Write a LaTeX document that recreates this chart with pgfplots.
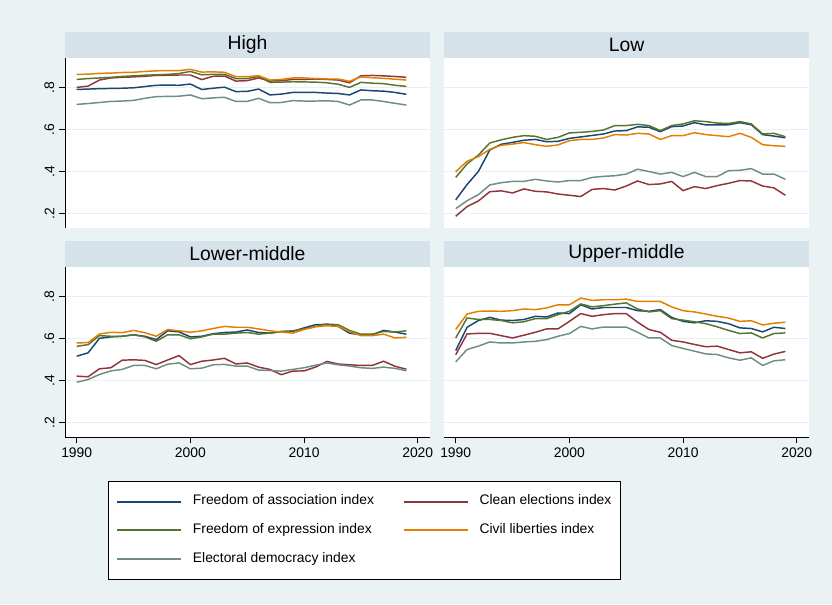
\documentclass[border=0pt]{standalone}
\usepackage{pgfplots}
\usepackage{pgfplotstable}
\pgfplotsset{compat=1.18}
\usepackage{fontspec}
\setmainfont{Liberation Sans}
\definecolor{bgc}{RGB}{234,242,243}
\definecolor{stripc}{RGB}{214,226,233}
\definecolor{gridc}{RGB}{232,240,242}
\definecolor{cnavy}{RGB}{26,71,111}
\definecolor{cmaroon}{RGB}{144,53,59}
\definecolor{cgreen}{RGB}{85,117,47}
\definecolor{corange}{RGB}{227,126,0}
\definecolor{cteal}{RGB}{110,142,132}

\pgfplotstableread{
year a c e l d
1990 0.790 0.800 0.838 0.862 0.719
1991 0.792 0.806 0.842 0.863 0.723
1992 0.794 0.835 0.845 0.867 0.728
1993 0.795 0.845 0.848 0.868 0.733
1994 0.796 0.848 0.852 0.871 0.735
1995 0.798 0.850 0.855 0.872 0.738
1996 0.804 0.853 0.858 0.876 0.748
1997 0.810 0.857 0.860 0.879 0.756
1998 0.811 0.858 0.862 0.880 0.757
1999 0.810 0.859 0.866 0.880 0.758
2000 0.816 0.859 0.876 0.886 0.764
2001 0.790 0.837 0.860 0.873 0.746
2002 0.796 0.853 0.862 0.874 0.750
2003 0.801 0.854 0.862 0.872 0.753
2004 0.780 0.830 0.842 0.851 0.733
2005 0.781 0.832 0.842 0.851 0.733
2006 0.792 0.845 0.852 0.856 0.748
2007 0.764 0.830 0.824 0.835 0.727
2008 0.768 0.832 0.825 0.838 0.728
2009 0.776 0.838 0.827 0.845 0.737
2010 0.776 0.838 0.826 0.845 0.735
2011 0.776 0.840 0.825 0.842 0.735
2012 0.773 0.838 0.822 0.840 0.736
2013 0.771 0.835 0.815 0.840 0.733
2014 0.764 0.822 0.800 0.829 0.716
2015 0.788 0.855 0.824 0.850 0.740
2016 0.784 0.857 0.820 0.846 0.740
2017 0.782 0.855 0.818 0.843 0.733
2018 0.776 0.852 0.810 0.839 0.724
2019 0.767 0.848 0.805 0.835 0.716
}\high

\pgfplotstableread{
year a c e l d
1990 0.264 0.186 0.371 0.398 0.222
1991 0.337 0.232 0.435 0.448 0.260
1992 0.400 0.259 0.478 0.470 0.289
1993 0.502 0.303 0.535 0.505 0.335
1994 0.529 0.307 0.550 0.524 0.346
1995 0.538 0.297 0.562 0.530 0.352
1996 0.548 0.316 0.570 0.537 0.352
1997 0.552 0.305 0.567 0.527 0.362
1998 0.541 0.302 0.552 0.519 0.354
1999 0.543 0.292 0.562 0.526 0.349
2000 0.557 0.286 0.583 0.546 0.356
2001 0.564 0.280 0.586 0.552 0.356
2002 0.571 0.314 0.590 0.552 0.371
2003 0.578 0.318 0.597 0.559 0.376
2004 0.592 0.311 0.618 0.575 0.379
2005 0.594 0.330 0.618 0.573 0.387
2006 0.612 0.354 0.624 0.581 0.410
2007 0.610 0.337 0.618 0.578 0.399
2008 0.589 0.340 0.594 0.552 0.387
2009 0.613 0.352 0.618 0.570 0.395
2010 0.616 0.308 0.626 0.570 0.375
2011 0.632 0.327 0.641 0.584 0.395
2012 0.621 0.318 0.637 0.575 0.375
2013 0.621 0.332 0.630 0.570 0.375
2014 0.622 0.343 0.628 0.565 0.403
2015 0.632 0.356 0.637 0.581 0.405
2016 0.622 0.354 0.626 0.562 0.413
2017 0.575 0.330 0.578 0.527 0.387
2018 0.568 0.321 0.581 0.522 0.387
2019 0.560 0.286 0.565 0.519 0.362
}\low

\pgfplotstableread{
year a c e l d
1990 0.515 0.420 0.562 0.578 0.391
1991 0.531 0.417 0.570 0.580 0.404
1992 0.600 0.455 0.613 0.621 0.428
1993 0.607 0.460 0.610 0.629 0.445
1994 0.610 0.496 0.610 0.627 0.452
1995 0.617 0.498 0.617 0.638 0.471
1996 0.610 0.495 0.607 0.627 0.471
1997 0.594 0.475 0.586 0.610 0.455
1998 0.636 0.497 0.617 0.642 0.477
1999 0.631 0.518 0.617 0.636 0.483
2000 0.607 0.475 0.598 0.629 0.455
2001 0.610 0.491 0.607 0.636 0.458
2002 0.622 0.497 0.620 0.647 0.474
2003 0.628 0.505 0.620 0.657 0.476
2004 0.630 0.478 0.625 0.653 0.468
2005 0.640 0.483 0.628 0.653 0.468
2006 0.628 0.463 0.620 0.645 0.449
2007 0.625 0.452 0.625 0.636 0.447
2008 0.632 0.427 0.633 0.630 0.444
2009 0.633 0.444 0.636 0.625 0.452
2010 0.650 0.445 0.645 0.642 0.460
2011 0.665 0.463 0.657 0.655 0.472
2012 0.667 0.490 0.668 0.660 0.483
2013 0.657 0.478 0.665 0.657 0.474
2014 0.625 0.474 0.638 0.633 0.468
2015 0.617 0.471 0.620 0.613 0.460
2016 0.617 0.471 0.620 0.613 0.457
2017 0.638 0.491 0.633 0.620 0.463
2018 0.630 0.467 0.630 0.602 0.457
2019 0.620 0.453 0.636 0.605 0.446
}\lowmid

\pgfplotstableread{
year a c e l d
1990 0.542 0.522 0.602 0.642 0.488
1991 0.653 0.621 0.697 0.716 0.547
1992 0.685 0.624 0.690 0.729 0.563
1993 0.700 0.624 0.690 0.730 0.583
1994 0.687 0.613 0.685 0.729 0.578
1995 0.685 0.602 0.674 0.732 0.578
1996 0.690 0.615 0.679 0.740 0.583
1997 0.705 0.629 0.694 0.737 0.586
1998 0.702 0.645 0.694 0.745 0.594
1999 0.721 0.645 0.713 0.760 0.610
2000 0.718 0.681 0.729 0.760 0.623
2001 0.760 0.718 0.764 0.792 0.657
2002 0.740 0.705 0.750 0.781 0.645
2003 0.747 0.713 0.756 0.784 0.654
2004 0.747 0.718 0.763 0.784 0.654
2005 0.747 0.718 0.769 0.787 0.654
2006 0.732 0.677 0.740 0.776 0.629
2007 0.729 0.642 0.726 0.776 0.602
2008 0.737 0.629 0.732 0.776 0.602
2009 0.700 0.591 0.694 0.750 0.566
2010 0.681 0.583 0.687 0.732 0.552
2011 0.674 0.571 0.679 0.726 0.539
2012 0.684 0.560 0.670 0.716 0.526
2013 0.681 0.563 0.655 0.705 0.523
2014 0.670 0.547 0.638 0.697 0.507
2015 0.650 0.531 0.623 0.681 0.496
2016 0.647 0.536 0.626 0.684 0.507
2017 0.631 0.505 0.602 0.664 0.471
2018 0.653 0.525 0.623 0.672 0.493
2019 0.647 0.538 0.626 0.677 0.498
}\upmid

\pgfplotsset{
  panel/.style={
    scale only axis, width=273.75pt, height=127.5pt,
    xmin=1988.97, xmax=2021.08, ymin=0.13, ymax=0.94,
    axis x line*=bottom, axis y line*=left,
    axis line style={black, line width=0.6pt},
    tick align=outside, major tick length=4.5pt,
    tick style={black, line width=0.6pt},
    ytick={0.2,0.4,0.6,0.8}, yticklabels={.2,.4,.6,.8},
    xtick={1990,2000,2010,2020}, xticklabels={1990,2000,2010,2020},
    ymajorgrids, grid style={gridc, line width=0.8pt},
    axis background/.style={fill=white},
    tick label style={font=\fontsize{10.4}{12}\selectfont},
    yticklabel style={rotate=90, anchor=south},
    /pgf/number format/assume math mode=true,
    every axis plot/.append style={line width=1.1pt, no markers},
    every axis title/.style={at={(0.5,1)}, anchor=south, fill=stripc,
      minimum width=273.75pt, minimum height=19.5pt, inner sep=0pt,
      font=\fontsize{14.5}{17}\selectfont},
  },
  notop/.style={xtick=\empty, x axis line style={draw=none}},
  noleft/.style={yticklabels={}, ytick style={draw=none}, y axis line style={draw=none}},
}

\begin{document}
\begin{tikzpicture}
\fill[bgc] (0,0) rectangle (624pt,453pt);

\begin{axis}[panel, notop, title={High}, at={(48.75pt,282pt)}, anchor=south west]
\addplot[cnavy] table[x=year,y=a]{\high};
\addplot[cmaroon] table[x=year,y=c]{\high};
\addplot[cgreen] table[x=year,y=e]{\high};
\addplot[corange] table[x=year,y=l]{\high};
\addplot[cteal] table[x=year,y=d]{\high};
\end{axis}

\begin{axis}[panel, notop, noleft, title={Low}, at={(333pt,282pt)}, anchor=south west]
\addplot[cnavy] table[x=year,y=a]{\low};
\addplot[cmaroon] table[x=year,y=c]{\low};
\addplot[cgreen] table[x=year,y=e]{\low};
\addplot[corange] table[x=year,y=l]{\low};
\addplot[cteal] table[x=year,y=d]{\low};
\end{axis}

\begin{axis}[panel, title={Lower-middle}, at={(48.75pt,125.25pt)}, anchor=south west,
  legend columns=2,
  legend cell align=left,
  legend image code/.code={\draw[#1, line width=1.5pt] (0pt,0pt) -- (48pt,0pt);},
  legend style={at={(0.1178,-0.2588)}, anchor=north west, draw=black,
    fill=white, inner xsep=6pt, inner ysep=10.3pt, row sep=11.5pt, column sep=0pt,
    font=\fontsize{10.4}{12}\selectfont,
    nodes={inner sep=0pt, text height=7.5pt, text depth=2.5pt},
    /tikz/every odd column/.append style={column sep=8pt}}]
\addplot[cnavy] table[x=year,y=a]{\lowmid};
\addlegendentry{\makebox[157.5pt][l]{Freedom of association index}}
\addplot[cmaroon] table[x=year,y=c]{\lowmid};
\addlegendentry{\makebox[99.75pt][l]{Clean elections index}}
\addplot[cgreen] table[x=year,y=e]{\lowmid};
\addlegendentry{\makebox[157.5pt][l]{Freedom of expression index}}
\addplot[corange] table[x=year,y=l]{\lowmid};
\addlegendentry{\makebox[99.75pt][l]{Civil liberties index}}
\addplot[cteal] table[x=year,y=d]{\lowmid};
\addlegendentry{\makebox[157.5pt][l]{Electoral democracy index}}
\end{axis}

\begin{axis}[panel, noleft, title={Upper-middle}, at={(333pt,125.25pt)}, anchor=south west]
\addplot[cnavy] table[x=year,y=a]{\upmid};
\addplot[cmaroon] table[x=year,y=c]{\upmid};
\addplot[cgreen] table[x=year,y=e]{\upmid};
\addplot[corange] table[x=year,y=l]{\upmid};
\addplot[cteal] table[x=year,y=d]{\upmid};
\end{axis}

\pgfresetboundingbox
\path[use as bounding box] (0,0) rectangle (624pt,453pt);
\end{tikzpicture}
\end{document}
